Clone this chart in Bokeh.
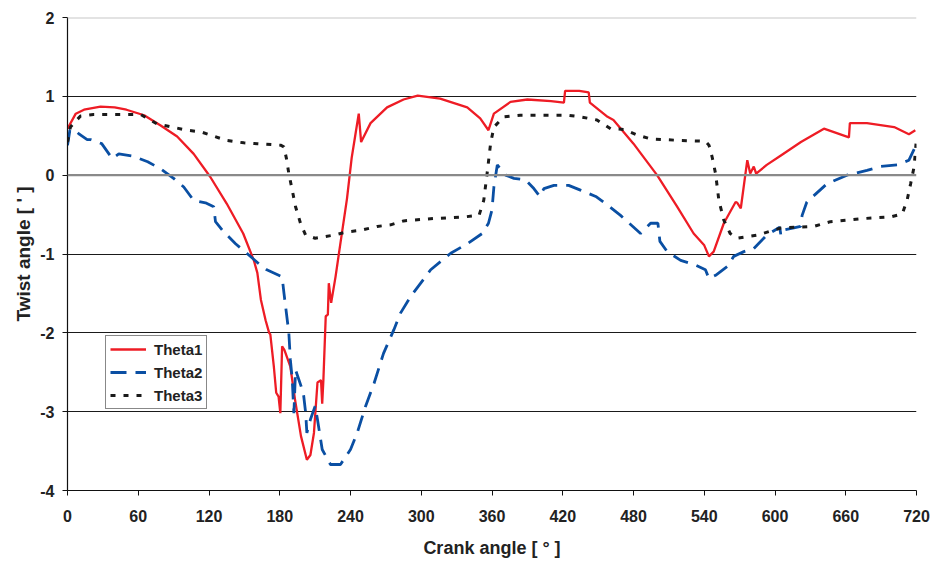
from bokeh.plotting import figure
from bokeh.models import Range1d, FixedTicker, Span, Legend, LegendItem
from bokeh.embed import file_html
from bokeh.resources import INLINE

# ---- data ----
crank1 = [0, 7, 14, 28, 40, 50, 65, 79, 93, 107, 121, 135, 149, 158, 161, 164, 168, 171, 172,
          175, 177, 179, 180.5, 182, 184, 189, 193, 198, 203, 206, 209, 212, 215, 216, 217,
          219, 220.8, 221.6, 223.6, 227.3, 231, 237, 241, 244, 247, 249, 257, 271, 285, 297,
          316, 339, 350, 357, 361.6, 375.7, 390, 410, 421, 422, 434, 442, 443, 458, 463, 480,
          486, 500, 517, 531, 540, 544, 548, 556.6, 566.6, 568, 571, 576.5, 579, 582, 584,
          593, 605, 622, 641.5, 662.7, 663.5, 678, 701, 713.6, 719]
theta1 = [0.59, 0.78, 0.83, 0.87, 0.86, 0.83, 0.76, 0.63, 0.49, 0.27, -0.02, -0.36, -0.74, -1.08,
          -1.24, -1.58, -1.84, -2.0, -2.02, -2.43, -2.76, -2.81, -3.02, -2.17, -2.22, -2.43,
          -2.85, -3.31, -3.61, -3.55, -3.27, -2.63, -2.60, -2.90, -2.60, -1.79, -1.77, -1.37,
          -1.62, -1.29, -0.91, -0.30, 0.22, 0.50, 0.78, 0.42, 0.66, 0.86, 0.96, 1.01, 0.97,
          0.86, 0.72, 0.57, 0.78, 0.93, 0.96, 0.94, 0.92, 1.07, 1.07, 1.05, 0.92, 0.74, 0.70,
          0.40, 0.28, 0.0, -0.40, -0.74, -0.89, -1.03, -0.97, -0.61, -0.34, -0.35, -0.42, 0.19,
          0.02, 0.11, 0.02, 0.13, 0.25, 0.42, 0.59, 0.48, 0.66, 0.66, 0.61, 0.52, 0.57]

crank2 = [0, 2, 5, 10, 16.7, 20, 29, 38, 43.5, 56, 68, 79, 90, 98.6, 107, 117, 124, 125.5, 132.6,
          142.5, 152, 162, 169, 182, 183.6, 187.7, 189, 190.6, 192, 193.4, 200, 202, 203, 206,
          210, 212, 216, 223, 231.5, 240, 245.7, 252.8, 260, 268, 276.8, 282.4, 291, 308, 325,
          339, 351.7, 357, 360, 361.6, 364.5, 371.5, 378.6, 388.5, 395.5, 400.6, 404, 412.5,
          425, 435, 448, 458, 469, 486, 494.5, 500.7, 502.4, 508.6, 520, 532.6, 541, 544, 549.6,
          559.5, 565, 573.6, 582, 593, 604, 605, 606, 616, 621.7, 623, 627, 644, 661, 678, 689.6,
          703.7, 713.6, 719]
theta2 = [0.38, 0.57, 0.59, 0.52, 0.45, 0.45, 0.40, 0.21, 0.27, 0.24, 0.17, 0.08, -0.04, -0.15,
          -0.32, -0.35, -0.40, -0.59, -0.72, -0.87, -0.99, -1.12, -1.20, -1.29, -1.5, -2.0, -2.34,
          -2.59, -3.02, -2.47, -2.76, -3.02, -3.27, -3.10, -2.93, -3.10, -3.48, -3.67, -3.67,
          -3.48, -3.27, -2.93, -2.64, -2.26, -1.96, -1.75, -1.54, -1.20, -0.99, -0.87, -0.74,
          -0.61, -0.44, -0.15, 0.13, 0.0, -0.04, -0.06, -0.17, -0.27, -0.17, -0.13, -0.13, -0.19,
          -0.27, -0.38, -0.51, -0.74, -0.61, -0.61, -0.84, -0.97, -1.08, -1.14, -1.20, -1.31,
          -1.27, -1.16, -1.03, -0.97, -0.93, -0.76, -0.66, -0.76, -0.70, -0.67, -0.65, -0.51,
          -0.34, -0.11, 0.0, 0.06, 0.11, 0.13, 0.19, 0.36]

crank3 = [0, 2.5, 11, 22, 62, 76, 101.5, 113, 135, 149.5, 161, 180.7, 183.5, 185.7, 187.7, 190.6,
          193.4, 197.6, 201.9, 210, 226, 237, 248.5, 262.7, 274, 285, 310.7, 336, 349, 353, 356,
          358.8, 361.6, 370, 384, 424, 435, 449, 460.6, 472, 483, 494.5, 520, 541, 544, 546.7,
          549.6, 552.4, 556.6, 562, 568, 585, 605, 633, 647, 675.4, 698, 708, 712, 715, 718,
          719.6]
theta3 = [0.42, 0.61, 0.75, 0.77, 0.77, 0.65, 0.57, 0.55, 0.44, 0.41, 0.40, 0.38, 0.36, 0.21,
          0.02, -0.19, -0.40, -0.61, -0.76, -0.80, -0.76, -0.72, -0.70, -0.65, -0.63, -0.58,
          -0.55, -0.53, -0.51, -0.32, 0.04, 0.40, 0.61, 0.74, 0.76, 0.76, 0.74, 0.70, 0.59,
          0.58, 0.51, 0.46, 0.44, 0.43, 0.38, 0.23, 0.02, -0.32, -0.57, -0.74, -0.80, -0.76,
          -0.67, -0.65, -0.59, -0.55, -0.53, -0.49, -0.32, -0.11, 0.11, 0.40]

x_ticks = list(range(0, 721, 60))
y_ticks = [-4, -3, -2, -1, 0, 1, 2]
y_tick_labels = ["-4", "-3", "-2", "-1", "0", "1", "2"]
grid_black = [-3, -2, -1, 1]

FONT = "Liberation Sans"

p = figure(width=934, height=562, output_backend="svg", toolbar_location=None,
           x_range=Range1d(0, 720), y_range=Range1d(-4, 2),
           min_border_left=67, min_border_right=18, min_border_top=17, min_border_bottom=72)
p.outline_line_color = None
p.background_fill_color = "white"
p.border_fill_color = "white"

# axes
p.xaxis.ticker = FixedTicker(ticks=x_ticks)
p.yaxis.ticker = FixedTicker(ticks=y_ticks)
p.yaxis.major_label_overrides = {t: s for t, s in zip(y_ticks, y_tick_labels)}
for ax in (p.xaxis[0], p.yaxis[0]):
    ax.axis_line_color = "#111111"
    ax.axis_line_width = 1.2
    ax.major_tick_line_color = "#111111"
    ax.major_tick_out = 5
    ax.major_tick_in = 0
    ax.minor_tick_line_color = None
    ax.major_label_text_font = FONT
    ax.major_label_text_font_style = "bold"
    ax.major_label_text_font_size = "16px"
    ax.major_label_text_color = "#222222"
    ax.axis_label_text_font = FONT
    ax.axis_label_text_font_style = "bold"
    ax.axis_label_text_color = "#222222"
p.xaxis.axis_label = "Crank angle [ ° ]"
p.yaxis.axis_label = "Twist angle [ ' ]"
p.xaxis.axis_label_text_font_size = "18px"
p.yaxis.axis_label_text_font_size = "19px"
p.xaxis.major_label_standoff = 14
p.yaxis.major_label_standoff = 8
p.xaxis.axis_label_standoff = 13
p.yaxis.axis_label_standoff = 3

# grid
p.xgrid.grid_line_color = None
p.ygrid.ticker = FixedTicker(ticks=grid_black)
p.ygrid.grid_line_color = "#1a1a1a"
p.ygrid.grid_line_width = 1.2
p.add_layout(Span(location=y_ticks[4], dimension="width", line_color="#8a8a8a", line_width=2.2))
p.add_layout(Span(location=y_ticks[6], dimension="width", line_color="#c8c8c8", line_width=2))

# series
r1 = p.line(crank1, theta1, line_color="#ee1c25", line_width=2.3)
r2 = p.line(crank2, theta2, line_color="#0a4fa3", line_width=2.8, line_dash="16 9")
r3 = p.line(crank3, theta3, line_color="#1a1a1a", line_width=3, line_dash="5 8")

legend = Legend(items=[LegendItem(label="Theta1", renderers=[r1]),
                       LegendItem(label="Theta2", renderers=[r2]),
                       LegendItem(label="Theta3", renderers=[r3])],
                location=(38, 81))
legend.label_text_font = FONT
legend.label_text_font_style = "bold"
legend.label_text_font_size = "15px"
legend.label_text_color = "#222222"
legend.border_line_color = "#111111"
legend.border_line_width = 1.2
legend.border_radius = 0
legend.background_fill_color = "white"
legend.background_fill_alpha = 1
legend.padding = 4
legend.margin = 0
legend.spacing = 5
legend.glyph_width = 36
legend.glyph_height = 18
legend.label_height = 18
legend.label_standoff = 8
p.add_layout(legend, "center")

open("out.html", "w").write(file_html(p, INLINE))
